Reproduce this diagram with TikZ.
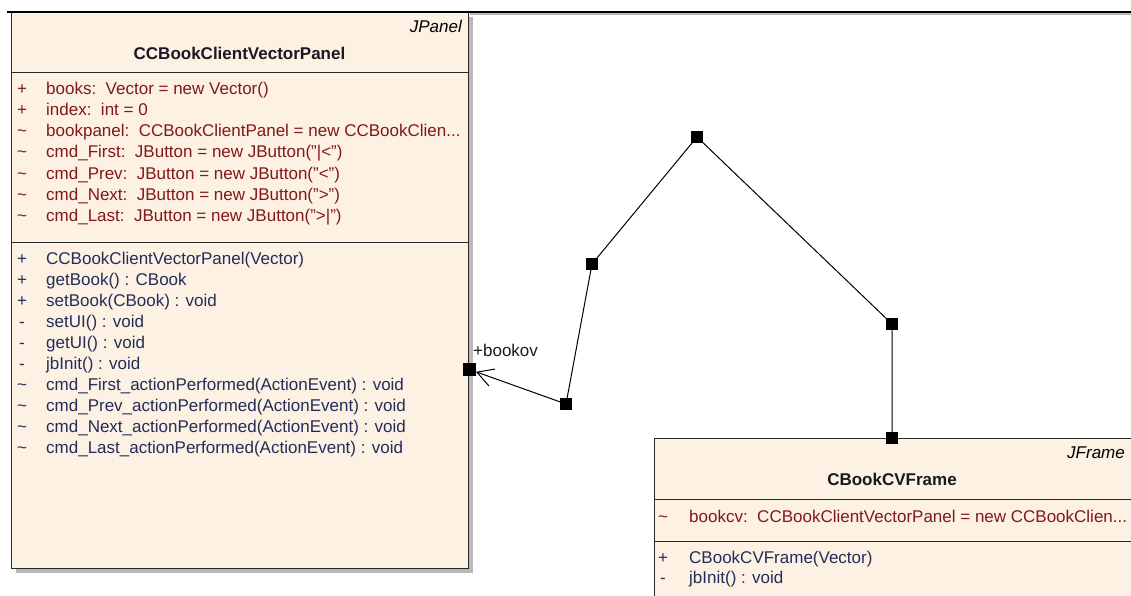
\documentclass[tikz,border=0pt]{standalone}
\usepackage{fontspec}
\setmainfont{Liberation Sans}
\usetikzlibrary{arrows.meta}
\definecolor{boxfill}{RGB}{252,241,227}
\definecolor{attrc}{RGB}{130,25,25}
\definecolor{opc}{RGB}{35,45,90}
\definecolor{titlec}{RGB}{25,25,35}
\definecolor{shadowc}{RGB}{185,185,185}
\definecolor{edgec}{RGB}{40,40,40}
\begin{document}
\begin{tikzpicture}[x=1pt,y=-1pt,
  umlfont/.style={font=\fontsize{17}{20}\selectfont},
  txt/.style={umlfont,inner sep=0pt,anchor=base west},
  attr/.style={txt,text=attrc},
  oper/.style={txt,text=opc},
  visa/.style={umlfont,inner sep=0pt,anchor=base,text=attrc},
  viso/.style={umlfont,inner sep=0pt,anchor=base,text=opc},
  classbox/.style={draw=edgec,line width=1pt,fill=boxfill,rectangle,inner sep=0pt,anchor=north west},
  sep/.style={draw=edgec,line width=1pt},
  marker/.style={rectangle,fill=black,inner sep=0pt,minimum size=12.5pt},
  conn/.style={draw=black,line width=1pt}
]
\useasboundingbox (0,0) rectangle (1131,596);
\clip (0,0) rectangle (1131,596);

% top frame line
\draw[shadowc,line width=1.5pt] (470,14) -- (1131,14);
\draw[black,line width=2pt] (7,12) -- (1131,12);

% left class
\fill[shadowc] (16,17) rectangle (473,573);
\node[classbox,minimum width=457pt,minimum height=556pt] (panel) at (11,12) {};
\draw[black,line width=2pt] (7,12) -- (470,12);
\draw[sep] (11,72.5) -- (468,72.5);
\draw[sep] (11,242) -- (468,242);
\node[umlfont,inner sep=0pt,anchor=base east] (pstereo) at (462,33) {\itshape JPanel};
\node[umlfont,inner sep=0pt,anchor=base,text=titlec] (ptitle) at (239.5,60) {\bfseries CCBookClientVectorPanel};

\node[visa] (va1) at (22,95) {+};
\node[attr] (a1) at (46,95) {books:\ \ Vector = new Vector()};
\node[visa] (va2) at (22,116) {+};
\node[attr] (a2) at (46,116) {index:\ \ int = 0};
\node[visa] (va3) at (22,137) {\textasciitilde};
\node[attr] (a3) at (46,137) {bookpanel:\ \ CCBookClientPanel = new CCBookClien...};
\node[visa] (va4) at (22,158) {\textasciitilde};
\node[attr] (a4) at (46,158) {cmd\_First:\ \ JButton = new JButton("|<")};
\node[visa] (va5) at (22,179) {\textasciitilde};
\node[attr] (a5) at (46,179) {cmd\_Prev:\ \ JButton = new JButton("<")};
\node[visa] (va6) at (22,200) {\textasciitilde};
\node[attr] (a6) at (46,200) {cmd\_Next:\ \ JButton = new JButton(">")};
\node[visa] (va7) at (22,221) {\textasciitilde};
\node[attr] (a7) at (46,221) {cmd\_Last:\ \ JButton = new JButton(">|")};

\node[viso] (vo1) at (22,264) {+};
\node[oper] (o1) at (46,264) {CCBookClientVectorPanel(Vector)};
\node[viso] (vo2) at (22,285) {+};
\node[oper] (o2) at (46,285) {getBook() : CBook};
\node[viso] (vo3) at (22,306) {+};
\node[oper] (o3) at (46,306) {setBook(CBook) : void};
\node[viso] (vo4) at (22,327) {-};
\node[oper] (o4) at (46,327) {setUI() : void};
\node[viso] (vo5) at (22,348) {-};
\node[oper] (o5) at (46,348) {getUI() : void};
\node[viso] (vo6) at (22,369) {-};
\node[oper] (o6) at (46,369) {jbInit() : void};
\node[viso] (vo7) at (22,390) {\textasciitilde};
\node[oper] (o7) at (46,390) {cmd\_First\_actionPerformed(ActionEvent) : void};
\node[viso] (vo8) at (22,411) {\textasciitilde};
\node[oper] (o8) at (46,411) {cmd\_Prev\_actionPerformed(ActionEvent) : void};
\node[viso] (vo9) at (22,432) {\textasciitilde};
\node[oper] (o9) at (46,432) {cmd\_Next\_actionPerformed(ActionEvent) : void};
\node[viso] (vo10) at (22,453) {\textasciitilde};
\node[oper] (o10) at (46,453) {cmd\_Last\_actionPerformed(ActionEvent) : void};

% right class
\node[classbox,minimum width=478pt,minimum height=200pt] (frame) at (654,438) {};
\draw[sep] (654,499) -- (1131,499);
\draw[sep] (654,541) -- (1131,541);
\node[umlfont,inner sep=0pt,anchor=base east] (fstereo) at (1125,458) {\itshape JFrame};
\node[umlfont,inner sep=0pt,anchor=base,text=titlec] (ftitle) at (892,485) {\bfseries CBookCVFrame};
\node[visa] (vf1) at (663,522) {\textasciitilde};
\node[attr] (f1) at (689,522) {bookcv:\ \ CCBookClientVectorPanel = new CCBookClien...};
\node[viso] (vf2) at (663,563) {+};
\node[oper] (f2) at (689,563) {CBookCVFrame(Vector)};
\node[viso] (vf3) at (663,583) {-};
\node[oper] (f3) at (689,583) {jbInit() : void};

% connector
\node[marker] (m1) at (469.5,369.5) {};
\node[marker] (m2) at (566,404) {};
\node[marker] (m3) at (592,264) {};
\node[marker] (m4) at (697,137) {};
\node[marker] (m5) at (892,324) {};
\node[marker] (m6) at (892,438) {};
\draw[conn] (m6.center) -- (m5.center) -- (m4.center) -- (m3.center) -- (m2.center);
\draw[conn,-{Straight Barb[length=16pt,width=18pt,line width=1pt]}] (m2.center) -- (m1);
\node[txt,text=titlec] (lbl) at (473,356) {+bookov};
\end{tikzpicture}
\end{document}
